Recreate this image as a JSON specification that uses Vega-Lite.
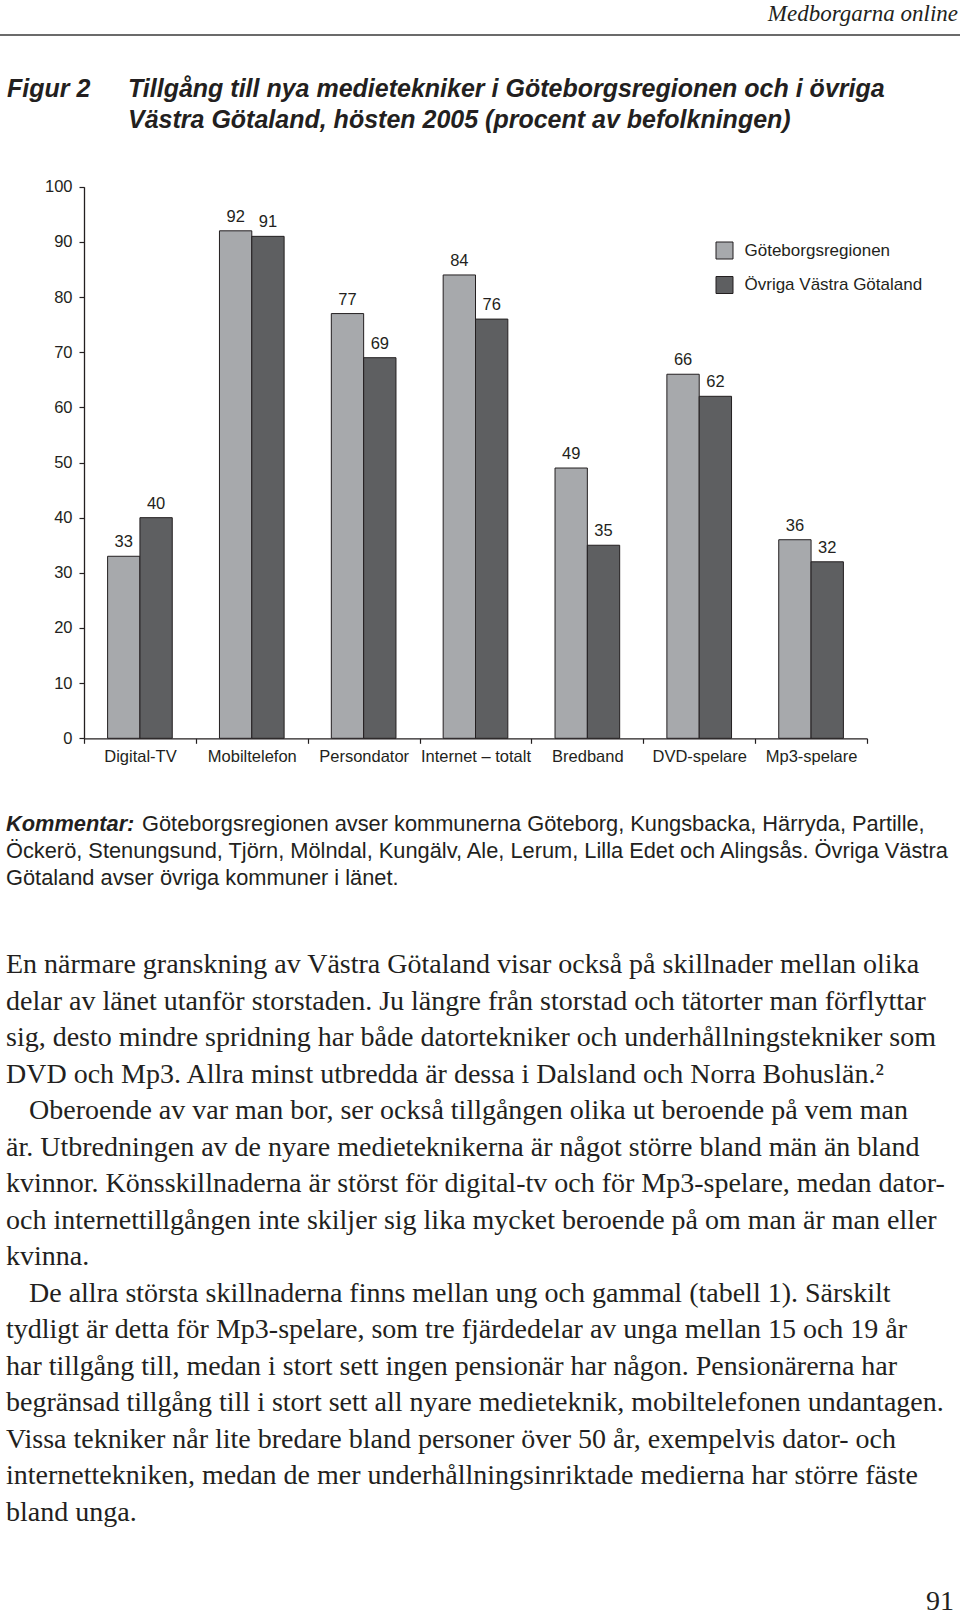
{
  "$schema": "https://vega.github.io/schema/vega-lite/v6.json",
  "width": 960,
  "height": 1617,
  "autosize": {"type": "none"},
  "padding": 0,
  "background": "white",
  "config": {"view": {"stroke": null}, "font": "Liberation Sans"},
  "resolve": {"scale": {"x": "independent", "y": "independent"}},
  "layer": [
    {
      "data": {"values": [
        {"kategori": "Digital-TV", "region": "Göteborgsregionen", "procent": 33},
        {"kategori": "Digital-TV", "region": "Övriga Västra Götaland", "procent": 40},
        {"kategori": "Mobiltelefon", "region": "Göteborgsregionen", "procent": 92},
        {"kategori": "Mobiltelefon", "region": "Övriga Västra Götaland", "procent": 91},
        {"kategori": "Persondator", "region": "Göteborgsregionen", "procent": 77},
        {"kategori": "Persondator", "region": "Övriga Västra Götaland", "procent": 69},
        {"kategori": "Internet – totalt", "region": "Göteborgsregionen", "procent": 84},
        {"kategori": "Internet – totalt", "region": "Övriga Västra Götaland", "procent": 76},
        {"kategori": "Bredband", "region": "Göteborgsregionen", "procent": 49},
        {"kategori": "Bredband", "region": "Övriga Västra Götaland", "procent": 35},
        {"kategori": "DVD-spelare", "region": "Göteborgsregionen", "procent": 66},
        {"kategori": "DVD-spelare", "region": "Övriga Västra Götaland", "procent": 62},
        {"kategori": "Mp3-spelare", "region": "Göteborgsregionen", "procent": 36},
        {"kategori": "Mp3-spelare", "region": "Övriga Västra Götaland", "procent": 32}
      ]},
      "encoding": {
        "x": {
          "field": "kategori", "type": "nominal", "sort": null,
          "scale": {"range": [84, 867], "paddingInner": 0, "paddingOuter": 0},
          "axis": {
            "orient": "bottom", "offset": -878.7, "title": null, "tickBand": "extent",
            "tickSize": 5, "labelPadding": 5, "labelAngle": 0, "labelFontSize": 16.5,
            "labelFont": "Liberation Sans", "labelColor": "#231f20", "labelLimit": 300,
            "domainColor": "#231f20", "domainWidth": 1.3, "tickColor": "#231f20", "tickWidth": 1.2, "grid": false
          }
        },
        "xOffset": {
          "field": "region", "type": "nominal",
          "sort": ["Göteborgsregionen", "Övriga Västra Götaland"],
          "scale": {"paddingInner": 0, "paddingOuter": 0.73}
        },
        "y": {
          "field": "procent", "type": "quantitative",
          "scale": {"domain": [0, 100], "range": [738.3, 186.7], "nice": false},
          "axis": {
            "orient": "left", "offset": -84, "title": null,
            "values": [0, 10, 20, 30, 40, 50, 60, 70, 80, 90, 100],
            "tickSize": 5, "labelPadding": 7, "labelFontSize": 16.5,
            "labelFont": "Liberation Sans", "labelColor": "#231f20",
            "domainColor": "#231f20", "domainWidth": 1.3, "tickColor": "#231f20", "tickWidth": 1.2, "grid": false
          }
        }
      },
      "layer": [
        {
          "mark": {"type": "bar", "stroke": "#231f20", "strokeWidth": 1},
          "encoding": {
            "color": {
              "field": "region", "type": "nominal",
              "scale": {"domain": ["Göteborgsregionen", "Övriga Västra Götaland"], "range": ["#a7a9ac", "#5e5f61"]},
              "legend": {
                "orient": "none", "legendX": 715.5, "legendY": 241.5, "title": null,
                "symbolType": "square", "symbolSize": 289, "symbolStrokeColor": "#231f20",
                "symbolStrokeWidth": 1, "symbolOpacity": 1, "labelFontSize": 17,
                "labelFont": "Liberation Sans", "labelColor": "#231f20", "labelOffset": 11,
                "rowPadding": 12.5, "padding": 0, "labelLimit": 400
              }
            }
          }
        },
        {
          "mark": {"type": "text", "dy": -9, "baseline": "alphabetic", "fontSize": 16.5, "font": "Liberation Sans", "color": "#231f20"},
          "encoding": {"text": {"field": "procent", "type": "quantitative"}}
        }
      ]
    },
    {
      "data": {"values": [{"del": "sidhuvud", "text": "Medborgarna online"}]},
      "mark": {"type": "text", "font": "Liberation Serif", "fontStyle": "italic", "fontSize": 23, "align": "right", "baseline": "alphabetic", "color": "#231f20"},
      "encoding": {
        "x": {"field": "del", "type": "nominal", "scale": {"type": "point", "range": [958, 958], "padding": 0}, "axis": null},
        "y": {"field": "del", "type": "nominal", "scale": {"type": "point", "range": [21, 21], "padding": 0}, "axis": null},
        "text": {"field": "text"}
      }
    },
    {
      "data": {"values": [{"del": "sidhuvud"}]},
      "mark": {"type": "rule", "color": "#3a3a3a", "strokeWidth": 1.5},
      "encoding": {
        "y": {"field": "del", "type": "nominal", "scale": {"type": "point", "range": [35, 35], "padding": 0}, "axis": null}
      }
    },
    {
      "data": {"values": [
        {"kolumn": "nummer", "rad": 1, "text": "Figur 2"},
        {"kolumn": "rubrik", "rad": 1, "text": "Tillgång till nya medietekniker i Göteborgsregionen och i övriga"},
        {"kolumn": "rubrik", "rad": 2, "text": "Västra Götaland, hösten 2005 (procent av befolkningen)"}
      ]},
      "mark": {"type": "text", "font": "Liberation Sans", "fontStyle": "italic", "fontWeight": "bold", "fontSize": 25, "align": "left", "baseline": "alphabetic", "color": "#231f20"},
      "encoding": {
        "x": {"field": "kolumn", "type": "nominal", "sort": ["nummer", "rubrik"], "scale": {"type": "point", "domain": ["nummer", "rubrik"], "range": [7, 128], "padding": 0}, "axis": null},
        "y": {"field": "rad", "type": "ordinal", "scale": {"type": "point", "domain": [1, 2], "range": [96.7, 128.3], "padding": 0}, "axis": null},
        "text": {"field": "text"}
      }
    },
    {
      "data": {"values": [{"rad": 1, "segment": 1, "text": "Kommentar:"}]},
      "mark": {"type": "text", "font": "Liberation Sans", "fontStyle": "italic", "fontWeight": "bold", "fontSize": 21.8, "align": "left", "baseline": "alphabetic", "color": "#231f20"},
      "encoding": {
        "x": {"field": "segment", "type": "ordinal", "scale": {"type": "point", "domain": [1, 2], "range": [6, 142], "padding": 0}, "axis": null},
        "y": {"field": "rad", "type": "ordinal", "scale": {"type": "point", "domain": [1, 2, 3], "range": [830.5, 885], "padding": 0}, "axis": null},
        "text": {"field": "text"}
      }
    },
    {
      "data": {"values": [
        {"rad": 1, "segment": 2, "text": "Göteborgsregionen avser kommunerna Göteborg, Kungsbacka, Härryda, Partille,"},
        {"rad": 2, "segment": 1, "text": "Öckerö, Stenungsund, Tjörn, Mölndal, Kungälv, Ale, Lerum, Lilla Edet och Alingsås. Övriga Västra"},
        {"rad": 3, "segment": 1, "text": "Götaland avser övriga kommuner i länet."}
      ]},
      "mark": {"type": "text", "font": "Liberation Sans", "fontSize": 21.8, "align": "left", "baseline": "alphabetic", "color": "#231f20"},
      "encoding": {
        "x": {"field": "segment", "type": "ordinal", "scale": {"type": "point", "domain": [1, 2], "range": [6, 142], "padding": 0}, "axis": null},
        "y": {"field": "rad", "type": "ordinal", "scale": {"type": "point", "domain": [1, 2, 3], "range": [830.5, 885], "padding": 0}, "axis": null},
        "text": {"field": "text"}
      }
    },
    {
      "data": {"values": [
        {"rad": 1, "indrag": 0, "text": "En närmare granskning av Västra Götaland visar också på skillnader mellan olika"},
        {"rad": 2, "indrag": 0, "text": "delar av länet utanför storstaden. Ju längre från storstad och tätorter man förflyttar"},
        {"rad": 3, "indrag": 0, "text": "sig, desto mindre spridning har både datortekniker och underhållningstekniker som"},
        {"rad": 4, "indrag": 0, "text": "DVD och Mp3. Allra minst utbredda är dessa i Dalsland och Norra Bohuslän.²"},
        {"rad": 5, "indrag": 1, "text": "Oberoende av var man bor, ser också tillgången olika ut beroende på vem man"},
        {"rad": 6, "indrag": 0, "text": "är. Utbredningen av de nyare medieteknikerna är något större bland män än bland"},
        {"rad": 7, "indrag": 0, "text": "kvinnor. Könsskillnaderna är störst för digital-tv och för Mp3-spelare, medan dator-"},
        {"rad": 8, "indrag": 0, "text": "och internettillgången inte skiljer sig lika mycket beroende på om man är man eller"},
        {"rad": 9, "indrag": 0, "text": "kvinna."},
        {"rad": 10, "indrag": 1, "text": "De allra största skillnaderna finns mellan ung och gammal (tabell 1). Särskilt"},
        {"rad": 11, "indrag": 0, "text": "tydligt är detta för Mp3-spelare, som tre fjärdedelar av unga mellan 15 och 19 år"},
        {"rad": 12, "indrag": 0, "text": "har tillgång till, medan i stort sett ingen pensionär har någon. Pensionärerna har"},
        {"rad": 13, "indrag": 0, "text": "begränsad tillgång till i stort sett all nyare medieteknik, mobiltelefonen undantagen."},
        {"rad": 14, "indrag": 0, "text": "Vissa tekniker når lite bredare bland personer över 50 år, exempelvis dator- och"},
        {"rad": 15, "indrag": 0, "text": "internettekniken, medan de mer underhållningsinriktade medierna har större fäste"},
        {"rad": 16, "indrag": 0, "text": "bland unga."}
      ]},
      "mark": {"type": "text", "font": "Liberation Serif", "fontSize": 28, "align": "left", "baseline": "alphabetic", "color": "#231f20"},
      "encoding": {
        "x": {"field": "indrag", "type": "ordinal", "scale": {"type": "point", "domain": [0, 1], "range": [6, 29], "padding": 0}, "axis": null},
        "y": {"field": "rad", "type": "ordinal", "scale": {"type": "point", "range": [973, 1520.5], "padding": 0}, "axis": null},
        "text": {"field": "text"}
      }
    },
    {
      "data": {"values": [{"del": "sidnummer", "text": "91"}]},
      "mark": {"type": "text", "font": "Liberation Serif", "fontSize": 28, "align": "right", "baseline": "alphabetic", "color": "#231f20"},
      "encoding": {
        "x": {"field": "del", "type": "nominal", "scale": {"type": "point", "range": [954, 954], "padding": 0}, "axis": null},
        "y": {"field": "del", "type": "nominal", "scale": {"type": "point", "range": [1610, 1610], "padding": 0}, "axis": null},
        "text": {"field": "text"}
      }
    }
  ]
}
